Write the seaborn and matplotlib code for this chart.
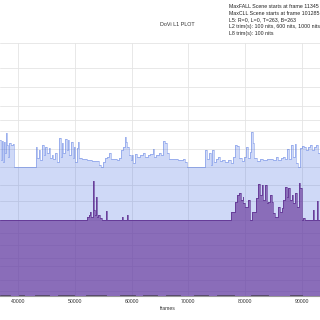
import numpy as np
import pandas as pd
import matplotlib
matplotlib.use("Agg")
import matplotlib.pyplot as plt
import seaborn as sns

# ---- data (L1 metadata, 12-bit PQ codes) ----
max_frames = [36770, 36946, 37123, 37300, 37476, 37652, 37828, 38005, 38181, 38358, 38710, 39122, 39298,
              43120, 43356, 43590, 43826, 44179, 44532, 44767, 45120, 45355, 45590, 45943, 46178, 46531,
              46884, 47236, 47472, 47707, 47942, 48236, 48530, 48765, 49000, 49236, 49588, 49824, 50059,
              50294, 50529, 50764, 51176, 52058, 52940, 53822, 54292, 54528, 54880, 55233, 55586, 55939,
              56292, 56762, 57350, 57703, 58056, 58408, 58761, 58996, 59232, 59467, 59820, 60055, 60290,
              60643, 60996, 61466, 61936, 62407, 62877, 63230, 63700, 63936, 64288, 64759, 65229, 65582,
              65935, 66288, 66523, 67346, 68228, 68992, 69463, 69816,
              72932, 73226, 73579, 73932, 74167, 74520, 74872, 75225, 75578, 75931, 76460, 76989, 77460,
              77930, 78283, 78636, 78988, 79459, 79812, 80164, 80517, 80870, 81105, 81340, 81576, 82046,
              82634, 83222, 83810, 84398, 84986, 85456, 85809, 86280, 86750, 87103, 87456, 87808, 88161,
              88514, 88749, 88984, 89396, 89690, 90043, 90396, 90748, 91101, 91454, 91807, 92160, 92512,
              92865, 93218, 94000]
max_pq = [2525, 2201, 2514, 2174, 2498, 2309, 2633, 2444, 2255, 2471, 2444, 2455, 2081,
          2417, 2228, 2363, 2201, 2444, 2282, 2417, 2309, 2390, 2228, 2282, 2212, 2309,
          2174, 2552, 2255, 2471, 2309, 2536, 2363, 2525, 2282, 2498, 2228, 2417, 2174,
          2390, 2498, 2228, 2212, 2201, 2191, 2191, 2120, 2093, 2174, 2228, 2245, 2309,
          2212, 2223, 2201, 2228, 2363, 2417, 2568, 2498, 2417, 2282, 2201, 2282, 2147,
          2299, 2255, 2282, 2309, 2255, 2282, 2299, 2374, 2255, 2282, 2309, 2282, 2503,
          2482, 2309, 2212, 2212, 2201, 2212, 2174, 2081,
          2363, 2212, 2309, 2120, 2363, 2174, 2212, 2255, 2191, 2201, 2174, 2201, 2158,
          2255, 2439, 2428, 2228, 2191, 2255, 2417, 2228, 2336, 2649, 2471, 2228, 2191,
          2212, 2201, 2212, 2223, 2201, 2255, 2201, 2228, 2245, 2212, 2374, 2212, 2444,
          2255, 2455, 2147, 2093, 2390, 2428, 2406, 2363, 2417, 2444, 2363, 2417, 2444,
          2309, 2417, 2417]

avg_frames = [36770, 52176, 52411, 52646, 52881, 53116, 53293, 53528, 53704, 53881, 54116, 54410, 54704,
              55468, 55645, 58232, 58408, 59232, 59408,
              77518, 78224, 78518, 78988, 79224, 79577, 79694, 79988, 80576, 80870, 81282, 81928,
              82340, 82634, 82928, 83222, 83575, 83810, 84104, 84398, 84692, 84986, 85280, 85868,
              86162, 86456, 86750, 87044, 87338, 87632, 87926, 88220, 88514, 88808, 89102, 89455,
              89690, 89984, 90278, 90500, 92042, 92218, 92748, 92924, 94000]
avg_pq = [1230, 1284, 1311, 1365, 1284, 1862, 1392, 1311, 1608, 1284, 1311, 1257, 1230,
          1376, 1230, 1284, 1230, 1311, 1230,
          1365, 1527, 1635, 1673, 1554, 1608, 1500, 1446, 1554, 1230, 1365, 1581,
          1813, 1635, 1802, 1554, 1797, 1500, 1527, 1635, 1527, 1338, 1284, 1446,
          1365, 1419, 1554, 1759, 1608, 1743, 1554, 1635, 1500, 1662, 1446, 1835,
          1743, 1230, 1257, 1230, 1392, 1230, 1543, 1230, 1230]

min_frames = [36770, 38500, 40200, 41000, 43000, 45500, 47000, 49800, 52000, 55500, 58000, 60500,
              62000, 64500, 66000, 68500, 71000, 73500, 75000, 78000, 81000, 84000, 88000, 90000, 94000]
min_pq = [10, 0, 10, 0, 10, 0, 10, 0, 10, 0, 10, 0, 10, 0, 10, 0, 10, 0, 10, 0, 10, 0, 10, 0, 0]

tick_frames = [40000, 50000, 60000, 70000, 80000, 90000]
grid_nits = [0.01, 0.1, 0.5, 1, 2.5, 5, 10, 25, 50, 100, 200, 400, 600, 1000, 2000, 4000, 10000]

title = "DoVi L1 PLOT"
info_lines = ["MaxFALL Scene starts at frame 11345",
              "MaxCLL Scene starts at frame 101285",
              "L5: R=0, L=0, T=263, B=263",
              "L2 trim(s): 100 nits, 600 nits, 1000 nits",
              "L8 trim(s): 100 nits"]


def nits_to_pq(n):
    m1, m2 = 0.1593017578125, 78.84375
    c1, c2, c3 = 0.8359375, 18.8515625, 18.6875
    y = (np.asarray(n, dtype=float) / 10000.0) ** m1
    return ((c1 + c2 * y) / (1 + c3 * y)) ** m2 * 4095


sns.set_theme(style="white")
plt.rcParams['font.family'] = ['Liberation Sans', 'DejaVu Sans']

fig = plt.figure(figsize=(3.2, 3.2), dpi=100)
ax = fig.add_axes([0.0, 24 / 320, 1.0, 253 / 320])

df_max = pd.DataFrame({"frame": max_frames, "pq": max_pq})
df_avg = pd.DataFrame({"frame": avg_frames, "pq": avg_pq})
df_min = pd.DataFrame({"frame": min_frames, "pq": min_pq})

blue = "#4169e1"
purple = "#663399"

ax.fill_between(df_max.frame, 0, df_max.pq, step="post", color=blue, alpha=0.25, lw=0, zorder=2)
sns.lineplot(data=df_max, x="frame", y="pq", drawstyle="steps-post", color="#3a62dc", alpha=0.5,
             lw=0.5, estimator=None, ax=ax, zorder=3)
ax.fill_between(df_avg.frame, 0, df_avg.pq, step="post", color=purple, alpha=0.65, lw=0, zorder=4)
sns.lineplot(data=df_avg, x="frame", y="pq", drawstyle="steps-post", color="#4b1580", alpha=0.75,
             lw=0.5, estimator=None, ax=ax, zorder=5)
sns.lineplot(data=df_min, x="frame", y="pq", drawstyle="steps-post", color="#333333", alpha=0.8,
             lw=0.5, estimator=None, ax=ax, zorder=6)

ax.set_xlim(36770, 93210)
ax.set_ylim(0, 4095)
ax.set_yticks(nits_to_pq(grid_nits))
ax.set_xticks(tick_frames)
ax.set_xticklabels([str(t) for t in tick_frames], fontsize=3.7, color="#333333")
ax.tick_params(axis="x", length=0, pad=2)
ax.tick_params(axis="y", left=False, labelleft=False)
ax.set_xlabel("")
ax.set_ylabel("")
ax.grid(True, color="#e4e4e4", lw=0.6)
ax.set_axisbelow(True)
for s in ["top", "left", "right"]:
    ax.spines[s].set_visible(False)
ax.spines["bottom"].set_color("#999999")
ax.spines["bottom"].set_linewidth(0.8)

fig.text(177 / 320, 1 - 24 / 320, title, ha="center", va="center", fontsize=3.9, color="#333333")
fig.text(168 / 320, 1 - 309 / 320, "frames", ha="center", va="center", fontsize=3.7, color="#333333")
for i, line in enumerate(info_lines):
    fig.text(229 / 320, 1 - (6.7 + 6.6 * i) / 320, line, ha="left", va="center",
             fontsize=3.75, color="#222222")

fig.savefig("out.png", dpi=100)
